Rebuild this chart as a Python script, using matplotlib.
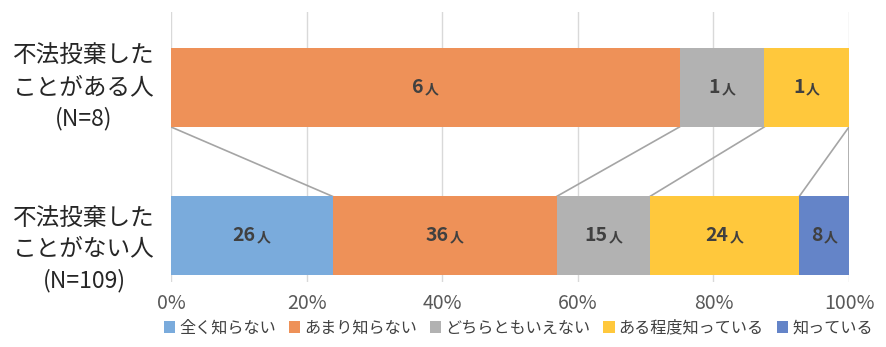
import matplotlib.pyplot as plt
from matplotlib.offsetbox import TextArea, HPacker, AnnotationBbox

plt.rcParams['font.family'] = ['Noto Sans CJK JP', 'DejaVu Sans']

# data
groups = ['不法投棄した\nことがない人', '不法投棄した\nことがある人']
group_n = ['(N=109)', '(N=8)']
categories = ['全く知らない', 'あまり知らない', 'どちらともいえない', 'ある程度知っている', '知っている']
counts_never = [26, 36, 15, 24, 8]
counts_done = [0, 6, 1, 1, 0]
colors = ['#7AABDC', '#EE9158', '#B2B2B2', '#FFC83C', '#6484C8']

rows = [counts_never, counts_done]

W, H = 886, 347
fig = plt.figure(figsize=(W / 100, H / 100), dpi=100)
ax = fig.add_axes([171 / W, 1 - 282 / H, (849 - 171) / W, (282 - 12) / H])

bar_h = 0.532
for yi, row in enumerate(rows):
    total = sum(row)
    left = 0.0
    for ci, v in enumerate(row):
        frac = v / total
        ax.barh(yi, frac, left=left, height=bar_h, color=colors[ci],
                label=categories[ci] if yi == 0 else None, zorder=2)
        if v > 0:
            num = TextArea(str(v), textprops=dict(fontsize=14, fontweight='bold', color='#404040'))
            unit = TextArea('人', textprops=dict(fontsize=10, fontweight='bold', color='#404040'))
            pack = HPacker(children=[num, unit], pad=0, sep=1, align='baseline')
            ab = AnnotationBbox(pack, (left + frac / 2, yi), frameon=False, zorder=4,
                                box_alignment=(0.5, 0.5))
            ax.add_artist(ab)
        left += frac

# series lines between the bars
top_cum = [0.0]
bot_cum = [0.0]
for v in counts_done:
    top_cum.append(top_cum[-1] + v / sum(counts_done))
for v in counts_never:
    bot_cum.append(bot_cum[-1] + v / sum(counts_never))
for i in range(1, len(categories) + 1):
    ax.plot([top_cum[i], bot_cum[i]], [1 - bar_h / 2, bar_h / 2],
            color='#A5A5A5', lw=1.2, zorder=1)

ax.set_xlim(0, 1)
ax.set_ylim(-0.31, 1.508)
ax.set_xticks([0, 0.2, 0.4, 0.6, 0.8, 1.0])
ax.set_xticklabels(['0%', '20%', '40%', '60%', '80%', '100%'], fontsize=14, color='#595959')
ax.tick_params(axis='x', length=0, pad=8)
ax.set_yticks([])
ax.grid(axis='x', color='#D9D9D9', lw=1, zorder=0)
ax.set_axisbelow(True)
for s in ax.spines.values():
    s.set_visible(False)

# group labels
label_pos = [(218, 249, 281), (55, 88, 119)]
for gi, (g, n) in enumerate(zip(groups, group_n)):
    l1, l2 = g.split('\n')
    y1, y2, y3 = label_pos[gi]
    fig.text(84 / W, 1 - y1 / H, l1, ha='center', va='center', fontsize=17, color='#262626')
    fig.text(84 / W, 1 - y2 / H, l2, ha='center', va='center', fontsize=17, color='#262626')
    fig.text(84 / W, 1 - y3 / H, n, ha='center', va='center', fontsize=16.5, color='#262626')

fig.legend(loc='center', bbox_to_anchor=(0.585, 1 - 328 / H), ncol=5, frameon=False,
           fontsize=11.6, handlelength=0.7, handleheight=0.7, handletextpad=0.25,
           columnspacing=0.8, labelcolor='#404040')

fig.savefig('out.png', dpi=100)
